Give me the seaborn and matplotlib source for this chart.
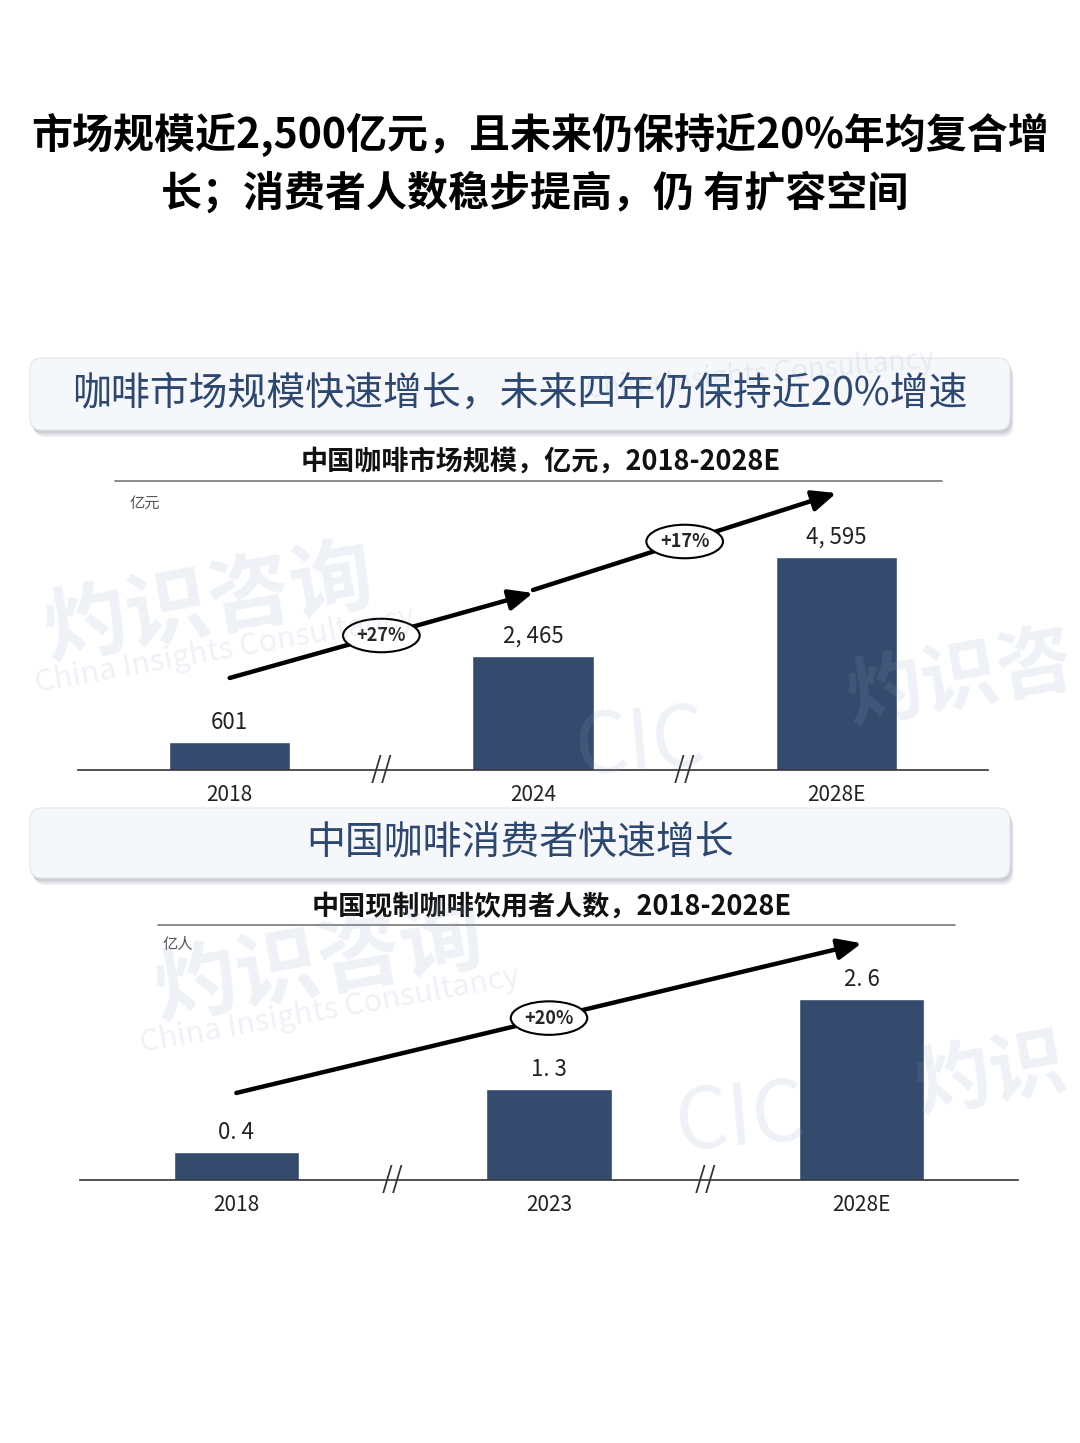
import numpy as np
import pandas as pd
import matplotlib
matplotlib.use("Agg")
import matplotlib.pyplot as plt
import seaborn as sns
from matplotlib.patches import FancyBboxPatch
from matplotlib.lines import Line2D

# market size, 亿元
market_years = ["2018", "2024", "2028E"]
market_values = [601, 2465, 4595]
market_labels = ["601", "2, 465", "4, 595"]
market_cagr = ["+27%", "+17%"]
market_arrow_x = [(0, 1), (1, 2)]
market_arrow_y = [(1985, 3818), (3883, 5975)]

# fresh coffee drinkers, 亿人
users_years = ["2018", "2023", "2028E"]
users_values = [0.4, 1.3, 2.6]
users_labels = ["0. 4", "1. 3", "2. 6"]
users_cagr = ["+20%"]
users_arrow_x = [(0, 2)]
users_arrow_y = [(1.25, 3.40)]

title_lines = ["市场规模近2,500亿元，且未来仍保持近20%年均复合增",
               "长；消费者人数稳步提高，仍 有扩容空间"]
banner_texts = ["咖啡市场规模快速增长，未来四年仍保持近20%增速", "中国咖啡消费者快速增长"]
sub_titles = ["中国咖啡市场规模，亿元，2018-2028E", "中国现制咖啡饮用者人数，2018-2028E"]

BAR = "#344b6d"
BLUE_TXT = "#2d4870"
W, H = 1080, 1443

sns.set_style("white")
plt.rcParams['font.family'] = ['Noto Sans CJK SC', 'DejaVu Sans']

fig = plt.figure(figsize=(W / 100, H / 100), dpi=100)


def rect(l, t, r, b):
    return [l / W, 1 - b / H, (r - l) / W, (b - t) / H]


def ftext(x, y, s, **kw):
    fig.text(x / W, 1 - y / H, s, **kw)


def banner(top, bottom, text):
    x0, x1 = 30, 1010
    for off, a in [(7, 0.25), (5, 0.35), (3, 0.45)]:
        sh = FancyBboxPatch((x0 / 100 + off / 200, (H - bottom - off) / 100), (x1 - x0) / 100, (bottom - top) / 100,
                            boxstyle="round,pad=0,rounding_size=0.12", fc="#b9bdc5", ec="none", alpha=a,
                            transform=fig.dpi_scale_trans)
        fig.add_artist(sh)
    p = FancyBboxPatch((x0 / 100, (H - bottom) / 100), (x1 - x0) / 100, (bottom - top) / 100,
                       boxstyle="round,pad=0,rounding_size=0.12", fc="#f6f7fa", ec="#e2e5ea", lw=0.8,
                       transform=fig.dpi_scale_trans)
    fig.add_artist(p)
    ftext(520, (top + bottom) / 2, text, ha="center", va="center", fontsize=28, color=BLUE_TXT)


def subtitle(x, y, text, xl, xr, ly):
    ftext(x, y, text, ha="center", va="center", fontsize=19.5, fontweight="bold", color="#111")
    fig.add_artist(Line2D([xl / W, xr / W], [1 - ly / H, 1 - ly / H], color="#777", lw=1.2))


def draw_chart(ax, years, values, labels, ylim, ax_x, ax_y, cagr):
    df = pd.DataFrame({"year": years, "value": values})
    sns.barplot(data=df, x="year", y="value", color=BAR, width=0.4, saturation=1, ax=ax, zorder=2)
    ax.bar_label(ax.containers[0], labels=labels, padding=6, fontsize=16, color="#222")
    ax.set_xlim(-0.5, 2.5)
    ax.set_ylim(*ylim)
    ax.set(xlabel="", ylabel="", yticks=[])
    sns.despine(ax=ax, left=True)
    ax.spines["bottom"].set_color("#333")
    ax.spines["bottom"].set_linewidth(1.2)
    ax.tick_params(axis="x", length=0, labelsize=15, pad=10, colors="#222")
    ax.patch.set_alpha(0)
    for xb in (0.5, 1.5):
        ax.text(xb, 0, "//", ha="center", va="center", fontsize=20, color="#333", clip_on=False)
    for (x0, x1), (y0, y1), lab in zip(ax_x, ax_y, cagr):
        ax.annotate("", xy=(x1, y1), xytext=(x0, y0),
                    arrowprops=dict(arrowstyle="-|>,head_length=0.8,head_width=0.35", lw=3.2, color="black",
                                    mutation_scale=18, shrinkA=0, shrinkB=0))
        ax.text((x0 + x1) / 2, (y0 + y1) / 2, lab, ha="center", va="center", fontsize=13, fontweight="bold",
                bbox=dict(boxstyle="ellipse,pad=0.13", fc="white", ec="black", lw=1.5), zorder=5)


# main title
ftext(540, 135, title_lines[0], ha="center", va="center", fontsize=29.5, fontweight="bold", color="black")
ftext(535, 193, title_lines[1], ha="center", va="center", fontsize=29.5, fontweight="bold", color="black")

# chart 1
banner(358, 430, banner_texts[0])
subtitle(541, 462, sub_titles[0], 115, 942, 481)
ftext(145, 503, "亿元", ha="center", va="center", fontsize=11, style="italic", color="#555")
ax1 = fig.add_axes(rect(78, 490, 988, 770))
draw_chart(ax1, market_years, market_values, market_labels, (0, 6040), market_arrow_x, market_arrow_y, market_cagr)

# chart 2
banner(808, 878, banner_texts[1])
subtitle(552, 907, sub_titles[1], 158, 955, 925)
ftext(178, 944, "亿人", ha="center", va="center", fontsize=11, style="italic", color="#555")
ax2 = fig.add_axes(rect(80, 930, 1018, 1180))
draw_chart(ax2, users_years, users_values, users_labels, (0, 3.59), users_arrow_x, users_arrow_y, users_cagr)

# faint watermarks
wm = dict(color="#8ea3c2", alpha=0.15, ha="center", va="center", zorder=10)
ftext(210, 605, "灼识咨询", fontsize=60, fontweight="bold", rotation=10, **wm)
ftext(225, 650, "China Insights Consultancy", fontsize=22, rotation=10, **wm)
ftext(960, 680, "灼识咨", fontsize=55, fontweight="bold", rotation=10, **wm)
ftext(640, 745, "CIC", fontsize=60, rotation=5, **wm)
ftext(320, 965, "灼识咨询", fontsize=60, fontweight="bold", rotation=10, **wm)
ftext(330, 1010, "China Insights Consultancy", fontsize=22, rotation=10, **wm)
ftext(740, 1120, "CIC", fontsize=60, rotation=5, **wm)
ftext(990, 1075, "灼识", fontsize=55, fontweight="bold", rotation=10, **wm)
ftext(760, 375, "China Insights Consultancy", fontsize=20, rotation=5, **wm)

fig.savefig("out.png", dpi=100)
